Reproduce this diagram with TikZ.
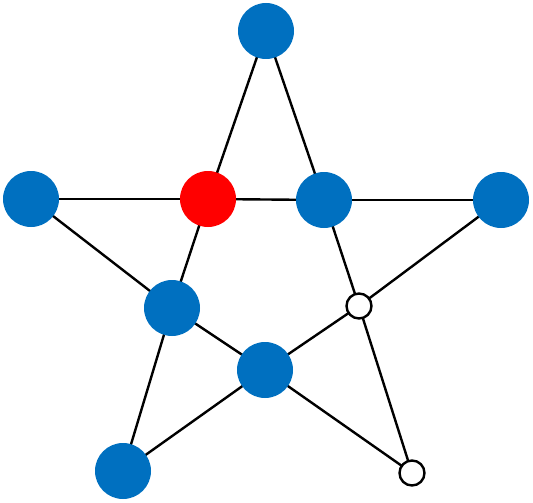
\documentclass[tikz,border=0pt]{standalone}
\usetikzlibrary{backgrounds}
\definecolor{nblue}{HTML}{0070C0}
\definecolor{nred}{HTML}{FF0000}
\tikzset{
  bignode/.style={circle,fill=nblue,minimum size=56pt,inner sep=0pt},
  rednode/.style={circle,fill=nred,minimum size=56pt,inner sep=0pt},
  smallnode/.style={circle,draw=black,fill=white,line width=2.4pt,minimum size=25pt,inner sep=0pt},
  edge/.style={draw=black,line width=2.4pt}
}
\begin{document}
\begin{tikzpicture}[x=1pt,y=-1pt]
\useasboundingbox (0,0) rectangle (533,503);
\node[bignode] (top) at (266,31) {};
\node[bignode] (lo) at (31,199) {};
\node[rednode] (red) at (208,199) {};
\node[bignode] (ir) at (324,200) {};
\node[bignode] (ro) at (501,200) {};
\node[bignode] (il) at (172,308) {};
\node[smallnode] (sw) at (359,306) {};
\node[bignode] (ib) at (265,370) {};
\node[bignode] (bl) at (123,471) {};
\node[smallnode] (br) at (412,473) {};
\begin{scope}[on background layer]
\draw[edge] (top.center) -- (red.center);
\draw[edge] (top.center) -- (ir.center);
\draw[edge] (lo.center) -- (red.center);
\draw[edge] (red.center) -- (ir.center);
\draw[edge] (ir.center) -- (ro.center);
\draw[edge] (lo.center) -- (il.center);
\draw[edge] (red.center) -- (il.center);
\draw[edge] (il.center) -- (bl.center);
\draw[edge] (bl.center) -- (ib.center);
\draw[edge] (il.center) -- (ib.center);
\draw[edge] (ib.center) -- (sw.center);
\draw[edge] (sw.center) -- (ro.center);
\draw[edge] (ir.center) -- (sw.center);
\draw[edge] (sw.center) -- (br.center);
\draw[edge] (ib.center) -- (br.center);
\end{scope}
\end{tikzpicture}
\end{document}
